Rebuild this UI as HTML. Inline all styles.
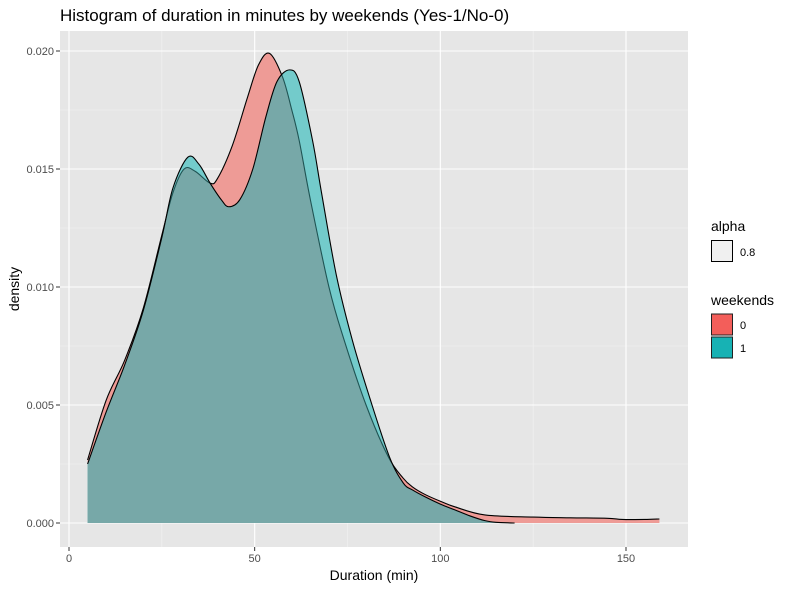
<!DOCTYPE html>
<html><head><meta charset="utf-8"><style>
body{margin:0;background:#fff;font-family:"Liberation Sans",sans-serif}
svg text{font-family:"Liberation Sans",sans-serif}
</style></head><body>
<svg id="chart" width="791" height="589" viewBox="0 0 791 589" xmlns="http://www.w3.org/2000/svg">
<defs><clipPath id="redclip"><path id="redclippath" d=""/></clipPath><clipPath id="tealclip"><path id="tealclippath" d=""/></clipPath></defs>
<rect width="791" height="589" fill="#fff"/>
<text x="60" y="21" font-size="17" fill="#000">Histogram of duration in minutes by weekends (Yes-1/No-0)</text>
<rect x="60" y="31" width="628" height="516" fill="#E6E6E6"/>
<g id="grid"></g>
<g id="series"></g>
<g id="axes"></g>
<text x="374" y="580" font-size="14" text-anchor="middle" fill="#000">Duration (min)</text>
<text transform="translate(19,289) rotate(-90)" font-size="14" text-anchor="middle" fill="#000">density</text>
<g>
<text x="711" y="231" font-size="14" fill="#000">alpha</text>
<rect x="711.5" y="240.5" width="21" height="21" fill="#F0F0F0" stroke="#000" stroke-width="1"/>
<text x="740" y="256" font-size="11" fill="#000">0.8</text>
<text x="711" y="305" font-size="14" fill="#000">weekends</text>
<rect x="711.5" y="314" width="21" height="21" fill="#F35E5A" stroke="#222" stroke-width="1"/>
<text x="740" y="329" font-size="11" fill="#000">0</text>
<rect x="711.5" y="337" width="21" height="21" fill="#17B2B4" stroke="#222" stroke-width="1"/>
<text x="740" y="352" font-size="11" fill="#000">1</text>
</g>
</svg>
<script>
const xTicks = [0, 50, 100, 150];
const yTicks = [0, 0.005, 0.010, 0.015, 0.020];
const yTickLabels = ["0.000", "0.005", "0.010", "0.015", "0.020"];
const redX = [5,10,15,20,25,28,31,34,38,40,44,48,51,54,57.5,60,62,65,70,74,80,86,90,92.5,96,100.5,104,112,125,135,145,149,155,159];
const redD = [.00267,.0052,.0069,.0091,.0122,.0140,.0150,.0149,.0144,.0146,.0160,.0180,.0194,.0199,.0189,.0175,.0162,.0137,.0100,.0078,.0050,.0028,.0019,.00153,.0012,.00089,.00068,.00034,.00025,.00022,.0002,.00015,.00015,.00017];
const tealX = [5,10,15,20,25,28,32,35,38,41,43,46,49.5,53,56,59.4,62,65.6,68,72,76.3,81,86.3,90,92.5,96,100,104,108,112,115,120];
const tealD = [.0025,.0047,.0067,.0090,.0121,.0142,.0155,.0152,.0144,.0137,.0134,.0137,.0150,.0172,.0187,.0192,.0187,.0162,.0140,.0105,.00775,.0053,.0028,.0017,.0014,.0011,.0008,.00055,.0003,.0001,.00003,0];

const NS = "http://www.w3.org/2000/svg";
const X = v => 69 + v * 3.7133;
const Y = v => 523 - v * 23600;
function mk(tag, attrs, parent){const e=document.createElementNS(NS,tag);for(const k in attrs)e.setAttribute(k,attrs[k]);parent.appendChild(e);return e;}
const grid=document.getElementById('grid'), axes=document.getElementById('axes'), series=document.getElementById('series');
[25,75,125].forEach(v=>{const l=mk('line',{x1:X(v),x2:X(v),y1:31,y2:547,stroke:'#F2F2F2','stroke-width':0.6},grid);

});
[0.0025,0.0075,0.0125,0.0175].forEach(v=>{const l=mk('line',{x1:60,x2:688,y1:Y(v),y2:Y(v),stroke:'#F2F2F2','stroke-width':0.6},grid);

});
xTicks.forEach(v=>{const l=mk('line',{x1:X(v),x2:X(v),y1:31,y2:547,stroke:'#fff','stroke-width':1.1},grid);


const t=mk('line',{x1:X(v),x2:X(v),y1:547,y2:551,stroke:'#333','stroke-width':1},axes);


const tx=mk('text',{x:X(v),y:562,'font-size':11,'text-anchor':'middle',fill:'#4D4D4D'},axes);tx.textContent=String(v);

});
yTicks.forEach((v,i)=>{const l=mk('line',{x1:60,x2:688,y1:Y(v),y2:Y(v),stroke:'#fff','stroke-width':1.1},grid);


const t=mk('line',{x1:56,x2:60,y1:Y(v),y2:Y(v),stroke:'#333','stroke-width':1},axes);


const tx=mk('text',{x:54,y:Y(v)+4,'font-size':11,'text-anchor':'end',fill:'#4D4D4D'},axes);tx.textContent=yTickLabels[i];

});
function curve(xs,ds){const p=xs.map((x,i)=>[X(x),Y(ds[i])]);let d='M'+p[0][0]+','+p[0][1];
for(let i=0;i<p.length-1;i++){const p0=p[Math.max(0,i-1)],p1=p[i],p2=p[i+1],p3=p[Math.min(p.length-1,i+2)];
const c1=[p1[0]+(p2[0]-p0[0])/6,p1[1]+(p2[1]-p0[1])/6],c2=[p2[0]-(p3[0]-p1[0])/6,p2[1]-(p3[1]-p1[1])/6];
d+=' C'+c1[0]+','+c1[1]+' '+c2[0]+','+c2[1]+' '+p2[0]+','+p2[1];}return d;}
const rc=curve(redX,redD), tc=curve(tealX,tealD);
const ra=rc+' L'+X(redX[redX.length-1])+','+Y(0)+' L'+X(redX[0])+','+Y(0)+' Z';
const ta=tc+' L'+X(tealX[tealX.length-1])+','+Y(0)+' L'+X(tealX[0])+','+Y(0)+' Z';
document.getElementById('redclippath').setAttribute('d',ra);
document.getElementById('tealclippath').setAttribute('d',ta);
let e;
e=mk('path',{d:ra,fill:'#EE9B96'},series);


e=mk('path',{d:rc,fill:'none',stroke:'#000','stroke-width':1.1},series);


e=mk('path',{d:ta,fill:'#73CBCB'},series);


e=mk('path',{d:ta,fill:'#77A8A8','clip-path':'url(#redclip)'},series);


e=mk('path',{d:rc,fill:'none',stroke:'#1F5353','stroke-width':1.1,'clip-path':'url(#tealclip)'},series);


e=mk('path',{d:tc,fill:'none',stroke:'#000','stroke-width':1.1},series);


</script>
</body></html>
